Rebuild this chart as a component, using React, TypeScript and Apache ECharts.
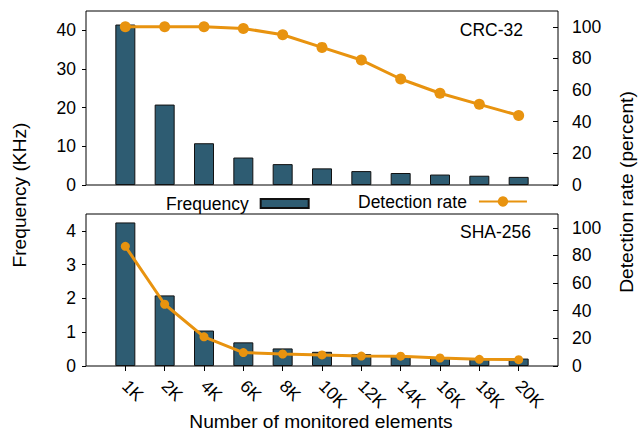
import React, { useEffect, useRef } from "react";
import * as echarts from "echarts";

const categories = ["1K", "2K", "4K", "6K", "8K", "10K", "12K", "14K", "16K", "18K", "20K"];
const crcFrequency = [41.5, 20.8, 10.8, 7.1, 5.4, 4.3, 3.6, 3.1, 2.7, 2.4, 2.1];
const crcDetection = [100, 100, 100, 99, 95, 87, 79, 67, 58, 51, 44];
const shaFrequency = [4.25, 2.09, 1.05, 0.7, 0.52, 0.42, 0.35, 0.29, 0.26, 0.23, 0.22];
const shaDetection = [86.6, 44.7, 21.1, 9.7, 8.7, 8.0, 7.2, 7.1, 5.8, 4.8, 4.6];
const crcFreqTicks = [0, 10, 20, 30, 40];
const shaFreqTicks = [0, 1, 2, 3, 4];
const rateTicks = [0, 20, 40, 60, 80, 100];

const FONT = "Liberation Sans";
const BAR = "#2e5c72";
const ORANGE = "#e8930f";

export default function App() {
  const ref = useRef<HTMLDivElement>(null);
  useEffect(() => {
    if (!ref.current) return;
    const chart = echarts.init(ref.current, null, { renderer: "svg" });
    const axisData = ["", ...categories, ""];
    const pad = (arr: number[]) => ["-", ...arr, "-"];
    const textStyle = { fontFamily: FONT, fontSize: 17.5, color: "#000" };
    const titleFont = `19.2px "${FONT}"`;

    const xBase = (gridIndex: number, showLabels: boolean) => ({
      type: "category",
      gridIndex,
      data: axisData,
      boundaryGap: false,
      axisLine: { show: false },
      axisTick: {
        show: showLabels,
        inside: false,
        length: 5,
        interval: (i: number) => i > 0 && i < axisData.length - 1,
        lineStyle: { color: "#000", width: 1 },
      },
      axisLabel: {
        show: showLabels,
        rotate: -45,
        margin: 17,
        interval: 0,
        ...textStyle,
      },
      splitLine: { show: false },
    });

    const yLeft = (gridIndex: number, max: number, ticks: number[]) => ({
      type: "value",
      gridIndex,
      min: 0,
      max,
      position: "left",
      axisLine: { show: false },
      axisTick: { show: true, inside: false, length: 4, customValues: ticks, lineStyle: { color: "#000" } },
      axisLabel: { customValues: ticks, margin: 10, ...textStyle },
      splitLine: { show: false },
    });
    const yRight = (gridIndex: number) => ({
      type: "value",
      gridIndex,
      min: 0,
      max: 110,
      position: "right",
      axisLine: { show: false },
      axisTick: { show: true, inside: true, length: 5, customValues: rateTicks, lineStyle: { color: "#000" } },
      axisLabel: { customValues: rateTicks, margin: 14, ...textStyle },
      splitLine: { show: false },
    });

    const barSeries = (name: string, idx: number, data: number[]) => ({
      name,
      type: "bar",
      xAxisIndex: idx,
      yAxisIndex: idx * 2,
      data: pad(data),
      barWidth: 20,
      itemStyle: { color: BAR, borderColor: "#111", borderWidth: 1 },
      z: 2,
    });
    const lineSeries = (name: string, idx: number, data: number[], size: number) => ({
      name,
      type: "line",
      xAxisIndex: idx,
      yAxisIndex: idx * 2 + 1,
      data: pad(data),
      symbol: "circle",
      symbolSize: size,
      showSymbol: true,
      lineStyle: { color: ORANGE, width: 3 },
      itemStyle: { color: ORANGE },
      z: 3,
    });

    chart.setOption({
      animation: false,
      backgroundColor: "#fff",
      textStyle: { fontFamily: FONT },
      grid: [
        { left: 86, right: 80, top: 11, height: 174, show: true, borderColor: "#000", borderWidth: 1, backgroundColor: "transparent" },
        { left: 86, right: 80, top: 214, height: 152, show: true, borderColor: "#000", borderWidth: 1, backgroundColor: "transparent" },
      ],
      xAxis: [xBase(0, false), xBase(1, true)],
      yAxis: [yLeft(0, 45, crcFreqTicks), yRight(0), yLeft(1, 4.5, shaFreqTicks), yRight(1)],
      legend: [
        {
          data: ["Frequency"],
          left: 166,
          top: 194.5,
          padding: 0,
          align: "right",
          icon: "rect",
          itemWidth: 48,
          itemHeight: 9,
          textStyle: { ...textStyle, padding: [0, 7, 0, 0] },
        },
        {
          data: ["Detection rate"],
          left: 358,
          top: 192.5,
          padding: 0,
          align: "right",
          itemWidth: 48,
          itemHeight: 13,
          textStyle: { ...textStyle, padding: [0, 7, 0, 0] },
        },
      ],
      series: [
        barSeries("Frequency", 0, crcFrequency),
        lineSeries("Detection rate", 0, crcDetection, 11),
        barSeries("Frequency", 1, shaFrequency),
        lineSeries("Detection rate", 1, shaDetection, 9),
      ],
      graphic: [
        { type: "text", x: 523, y: 30, style: { text: "CRC-32", fill: "#000", align: "right", verticalAlign: "middle", font: `17.5px "${FONT}"` } },
        { type: "text", x: 531, y: 232, style: { text: "SHA-256", fill: "#000", align: "right", verticalAlign: "middle", font: `17.5px "${FONT}"` } },
        { type: "text", x: 19, y: 195, rotation: Math.PI / 2, style: { text: "Frequency (KHz)", fill: "#000", align: "center", verticalAlign: "middle", font: titleFont } },
        { type: "text", x: 626.5, y: 192, rotation: Math.PI / 2, style: { text: "Detection rate (percent)", fill: "#000", align: "center", verticalAlign: "middle", font: titleFont } },
        { type: "text", x: 321, y: 421.5, style: { text: "Number of monitored elements", fill: "#000", align: "center", verticalAlign: "middle", font: titleFont } },
      ],
    });
    return () => chart.dispose();
  }, []);
  return <div ref={ref} style={{ position: "fixed", left: 0, top: 0, width: 638, height: 433 }} />;
}
